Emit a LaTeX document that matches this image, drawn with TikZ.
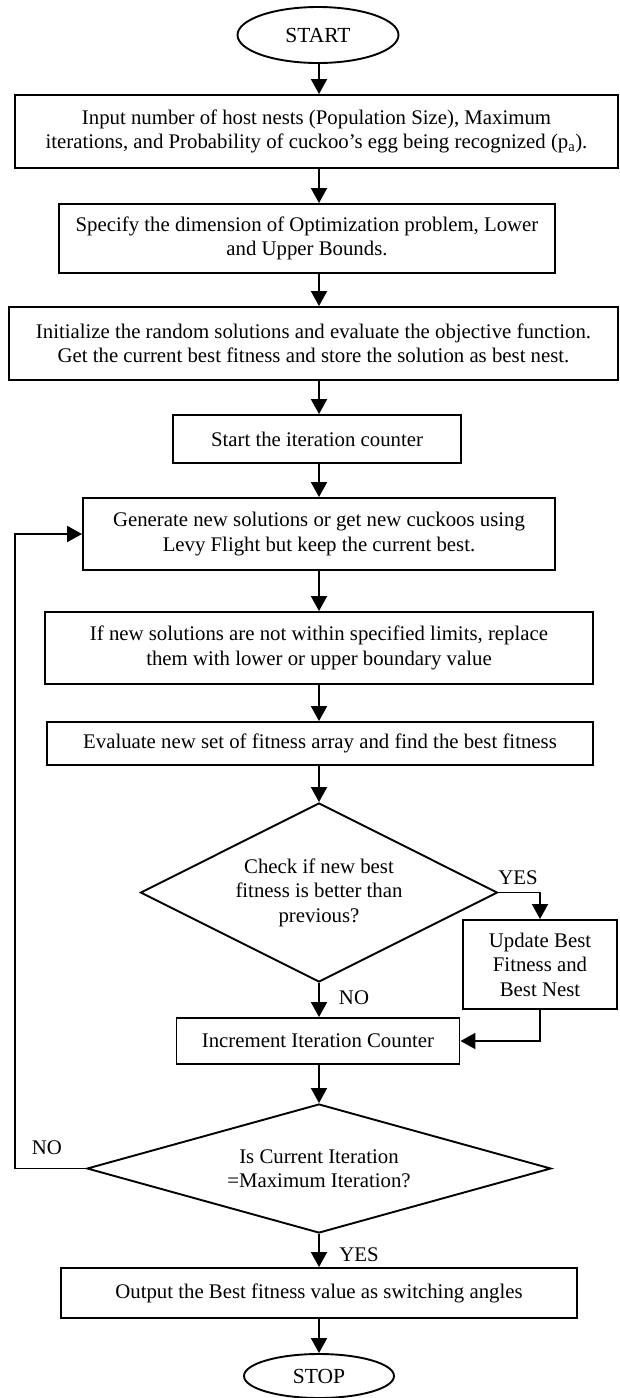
\documentclass[tikz,border=0pt]{standalone}
\usepackage{fontspec}
\setmainfont{Liberation Serif}
\usetikzlibrary{shapes.geometric,arrows.meta}
\newcommand\fcfont{\fontsize{20.8}{24.5}\selectfont}
\begin{document}
\begin{tikzpicture}[x=1pt,y=-1pt,
  base/.style={draw, line width=1.9pt, inner sep=0pt, align=center, font=\fcfont},
  box/.style={base, rectangle},
  term/.style={base, ellipse},
  decide/.style={base, diamond},
  lbl/.style={font=\fcfont, inner sep=0pt},
  arr/.style={-{Triangle[length=15pt,width=16pt]}, line width=1.9pt}]
\useasboundingbox (0,0) rectangle (619,1398);
\coordinate (ax) at (319,0);
\coordinate (lp) at (15,0);
\node[term, minimum width=161pt, minimum height=56pt, font=\fontsize{21.5}{24}\selectfont] (start) at (318,35) {START};
\node[box, minimum width=603pt, minimum height=73pt] (b1) at (316.5,131.5)
  {Input number of host nests (Population Size), Maximum\\iterations, and Probability of cuckoo’s egg being recognized (p\textsubscript{a}).};
\node[box, minimum width=496pt, minimum height=69pt] (b2) at (307,238.5)
  {Specify the dimension of Optimization problem, Lower\\and Upper Bounds.};
\node[box, minimum width=609pt, minimum height=73pt] (b3) at (313.5,343.5)
  {Initialize the random solutions and evaluate the objective function.\\Get the current best fitness and store the solution as best nest.};
\node[box, minimum width=288pt, minimum height=48pt] (b4) at (317,439)
  {Start the iteration counter};
\node[box, minimum width=472pt, minimum height=72pt] (b5) at (319,534)
  {Generate new solutions or get new cuckoos using\\Levy Flight but keep the current best.};
\node[box, minimum width=548pt, minimum height=72pt] (b6) at (319,648)
  {If new solutions are not within specified limits, replace\\them with lower or upper boundary value};
\node[box, minimum width=546pt, minimum height=43pt] (b7) at (320,743.5)
  {Evaluate new set of fitness array and find the best fitness};
\node[decide, aspect=2, minimum width=357pt, minimum height=179pt] (d1) at (319,892.5)
  {Check if new best\\fitness is better than\\previous?};
\node[box, minimum width=154pt, minimum height=89pt] (upd) at (540,964.5)
  {Update Best\\Fitness and\\Best Nest};
\node[box, minimum width=283pt, minimum height=46pt] (inc) at (318,1041)
  {Increment Iteration Counter};
\node[decide, aspect=3.6, minimum width=464pt, minimum height=129pt] (d2) at (319,1168.5)
  {Is Current Iteration\\=Maximum Iteration?};
\node[box, minimum width=516pt, minimum height=50pt] (out) at (319,1293)
  {Output the Best fitness value as switching angles};
\node[term, minimum width=150pt, minimum height=44pt, font=\fontsize{21.5}{24}\selectfont] (stop) at (319,1376) {STOP};
% labels
\node[lbl] (yes1) at (518,878) {YES};
\node[lbl] (no1) at (354,998) {NO};
\node[lbl] (no2) at (47,1148) {NO};
\node[lbl] (yes2) at (359,1255) {YES};
% connectors
\draw[arr] (start.south -| ax) -- (b1.north -| ax);
\draw[arr] (b1.south -| ax) -- (b2.north -| ax);
\draw[arr] (b2.south -| ax) -- (b3.north -| ax);
\draw[arr] (b3.south -| ax) -- (b4.north -| ax);
\draw[arr] (b4.south -| ax) -- (b5.north -| ax);
\draw[arr] (b5.south -| ax) -- (b6.north -| ax);
\draw[arr] (b6.south -| ax) -- (b7.north -| ax);
\draw[arr] (b7.south -| ax) -- (d1.north);
\draw[arr] (d1.east) -| (upd.north);
\draw[arr] (d1.south) -- (inc.north -| ax);
\draw[arr] (upd.south) |- (inc.east);
\draw[arr] (inc.south -| ax) -- (d2.north);
\draw[arr] (d2.south) -- (out.north -| ax);
\draw[arr] (out.south -| ax) -- (stop.north);
\draw[arr] (d2.west) -- (d2.west -| lp) -- (lp |- b5.west) -- (b5.west);
\end{tikzpicture}
\end{document}
